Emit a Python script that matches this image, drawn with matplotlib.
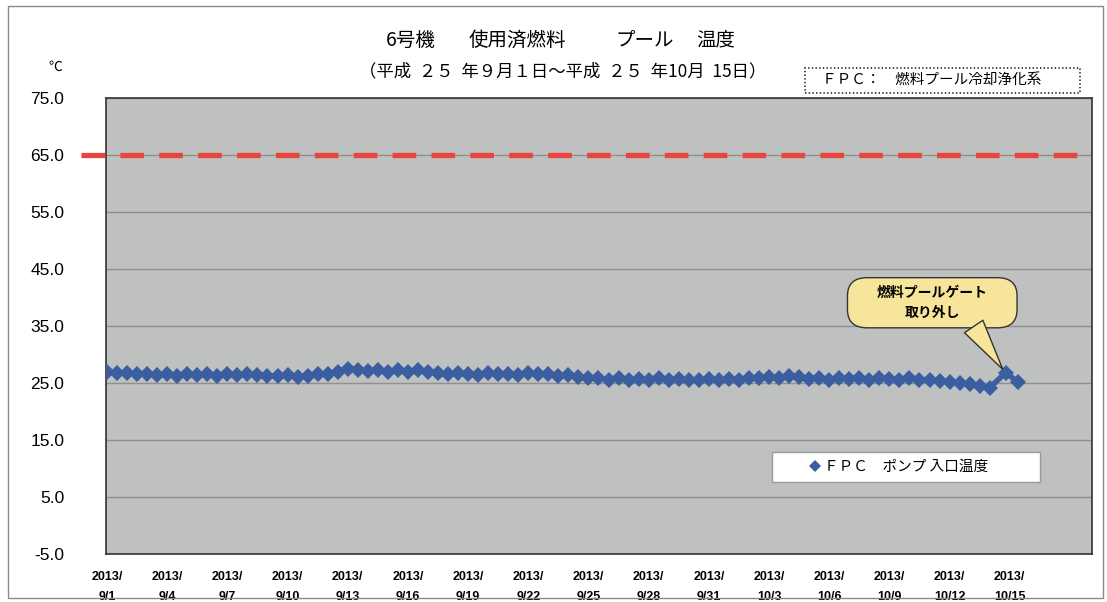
import numpy as np
import matplotlib
matplotlib.use("Agg")
import matplotlib.pyplot as plt
from matplotlib.patches import Rectangle, FancyBboxPatch

plt.rcParams['font.family'] = ['Noto Sans CJK JP', 'DejaVu Sans']
plt.rcParams['lines.scale_dashes'] = False

# FPC pump inlet temperature, readings every half day from 9/1, plus the last two after gate removal
temps = [26.9, 26.7, 26.8, 26.5, 26.6,
         26.4, 26.6, 26.3, 26.5, 26.4, 26.6, 26.3, 26.5, 26.4, 26.6, 26.4, 26.3,
         26.2, 26.4, 26.1, 26.3, 26.5, 26.6,
         27.0, 27.5, 27.3, 27.1,
         27.2, 27.0, 27.3, 26.9, 27.2, 27.0,
         26.7, 26.5, 26.8, 26.6, 26.4, 26.7, 26.5, 26.6, 26.4, 26.7, 26.5, 26.6, 26.3, 26.4,
         26.1, 25.9, 25.8,
         25.6, 25.8, 25.5, 25.7, 25.6, 25.8, 25.6, 25.7, 25.5, 25.6, 25.7,
         25.5, 25.7, 25.6, 25.8, 25.9,
         26.1, 25.9, 26.2, 26.0,
         25.7, 25.9, 25.6, 25.8, 25.7, 25.9, 25.6, 25.8, 25.7, 25.6, 25.8, 25.5, 25.6,
         25.4, 25.2, 25.0, 24.8, 24.5, 24.2]
tail_days = [44.8, 45.4]
tail_temps = [26.8, 25.2]

limit_temp = 65.0
tick_days = [0, 3, 6, 9, 12, 15, 18, 21, 24, 27, 30, 33, 36, 39, 42, 45]
tick_labels = ['9/1', '9/4', '9/7', '9/10', '9/13', '9/16', '9/19', '9/22',
               '9/25', '9/28', '9/31', '10/3', '10/6', '10/9', '10/12', '10/15']
y_ticks = [-5, 5, 15, 25, 35, 45, 55, 65, 75]

days = np.concatenate([np.arange(len(temps)) * 0.5, tail_days])
values = np.concatenate([temps, tail_temps])

W, H = 1107, 602
fig = plt.figure(figsize=(W / 100, H / 100), dpi=100)
fig.patch.set_facecolor('white')
ax = fig.add_axes([106 / W, 1 - 554 / H, (1092 - 106) / W, (554 - 98) / H])
ax.set_facecolor('#bfc0c0')

# outer frame of the scanned sheet
fig.add_artist(Rectangle((8 / W, 4 / H), 1 - 12 / W, 1 - 10 / H, transform=fig.transFigure,
                         fill=False, ec='#8a8a8a', lw=1))

ax.set_xlim(-0.05, 49.1)
ax.set_ylim(-5, 75)
ax.set_yticks(y_ticks)
ax.set_yticklabels([f'{v:.1f}' for v in y_ticks], fontsize=12.5, family='Liberation Sans')
ax.set_xticks(tick_days)
ax.set_xticklabels([f'2013/\n{t}' for t in tick_labels], fontsize=9, linespacing=1.9,
                   family='Liberation Sans', fontweight='bold')
ax.tick_params(axis='y', length=0, pad=30)
ax.tick_params(axis='x', length=0, pad=12)
ax.grid(axis='y', color='#8f8f8f', lw=1)
ax.set_axisbelow(True)
for s in ax.spines.values():
    s.set_color('#333333')
    s.set_linewidth(1.2)

# 65 degree limit line
ax.plot([-1.3, 49.1], [limit_temp, limit_temp], color='#e8453c', lw=3.8,
        dashes=(17, 11), clip_on=False, zorder=3, solid_capstyle='butt')

ax.plot(days, values, color='#3b5ea0', lw=4, marker='D', markersize=8.5,
        markeredgewidth=0, label='ＦＰＣ　ポンプ 入口温度', zorder=4)

# legend with its own wide frame
ax.add_patch(Rectangle((0.6755, 0.158), 0.2715, 0.0657, transform=ax.transAxes,
                       fc='white', ec='#9a9a9a', lw=1, zorder=5))
leg = ax.legend(loc='center', bbox_to_anchor=(0.805, 0.191), fontsize=10.5, frameon=False,
                handlelength=0.6, handletextpad=0.3, markerscale=0.75)
leg.set_zorder(6)
for h in leg.legend_handles:
    h.set_linewidth(0)

# callout for the gate removal
ax.add_patch(FancyBboxPatch((0.752, 0.496), 0.172, 0.11, transform=ax.transAxes,
                            boxstyle='round,pad=0,rounding_size=0.02', fc='#f6e59a',
                            ec='#333333', lw=1, zorder=6, mutation_aspect=2))
ax.annotate('', xy=(tail_days[0] - 0.15, tail_temps[0] + 0.6),
            xytext=(0.88, 0.499), textcoords='axes fraction',
            arrowprops=dict(arrowstyle='wedge,tail_width=1.6,shrink_factor=0.5', fc='#f6e59a',
                            ec='#333333', lw=1, shrinkA=0, shrinkB=0), zorder=7)
ax.text(0.838, 0.551, '燃料プールゲート\n取り外し', transform=ax.transAxes, ha='center',
        va='center', fontsize=10, fontweight='bold', linespacing=1.5, zorder=8)

for word, xc in [('6号機', 411), ('使用済燃料', 517), ('プール', 645), ('温度', 716)]:
    fig.text(xc / W, 1 - 40 / H, word, ha='center', va='center', fontsize=14)
fig.text(563 / W, 1 - 71 / H, '（平成  ２５  年９月１日～平成  ２５  年10月  15日）',
         ha='center', va='center', fontsize=12.5)
fig.text(55 / W, 1 - 67 / H, '℃', ha='center', va='center', fontsize=10)
fig.add_artist(Rectangle((805 / W, 1 - 93 / H), 275 / W, 25 / H, transform=fig.transFigure,
                         fill=False, ec='#333333', lw=1.3, ls=':'))
fig.text(822 / W, 1 - 81 / H, 'ＦＰＣ：　燃料プール冷却浄化系', ha='left', va='center', fontsize=10.5)

fig.savefig('out.png', dpi=100)
